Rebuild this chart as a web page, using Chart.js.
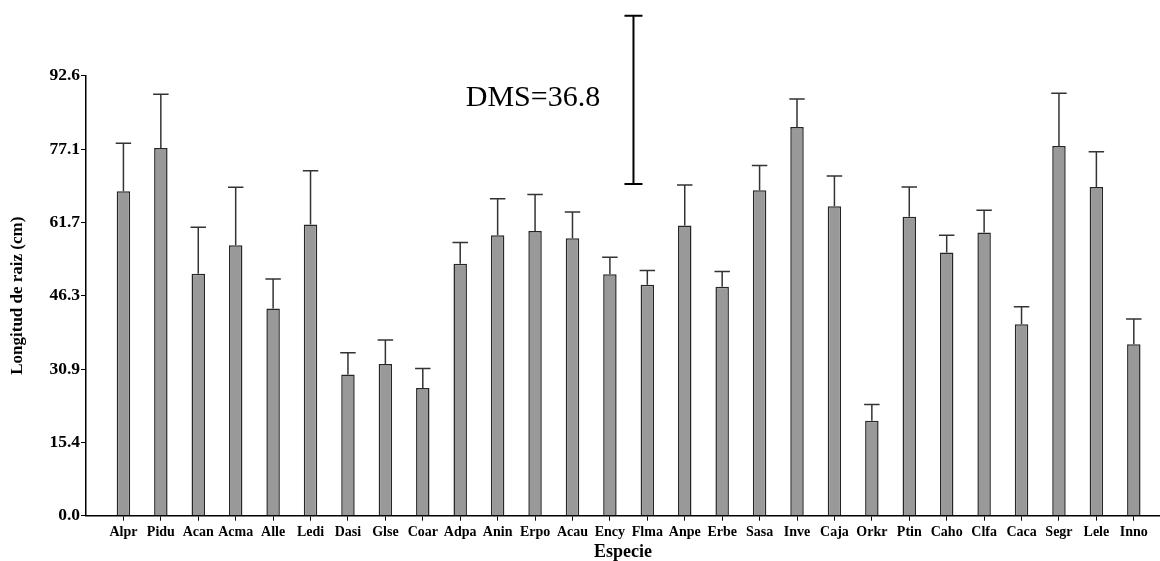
<!DOCTYPE html>
<html>
<head>
<meta charset="utf-8">
<script src="https://cdn.jsdelivr.net/npm/chart.js@4/dist/chart.umd.min.js"></script>
<style>
  html, body { margin: 0; padding: 0; background: #fff; overflow: hidden; }
  #wrap { width: 1160px; height: 561px; position: relative; }
</style>
</head>
<body>
<div id="wrap"><canvas id="myChart"></canvas></div>
<script>
// species codes
const especies = ['Alpr', 'Pidu', 'Acan', 'Acma', 'Alle', 'Ledi', 'Dasi', 'Glse', 'Coar', 'Adpa',
    'Anin', 'Erpo', 'Acau', 'Ency', 'Flma', 'Anpe', 'Erbe', 'Sasa', 'Inve', 'Caja',
    'Orkr', 'Ptin', 'Caho', 'Clfa', 'Caca', 'Segr', 'Lele', 'Inno'];

// mean root length (cm)
const medias = [68.3, 77.4, 50.9, 56.9, 43.6, 61.3, 29.7, 31.9, 26.9, 53.0,
    59.0, 59.9, 58.4, 50.8, 48.6, 61.1, 48.2, 68.5, 81.8, 65.1,
    20.0, 62.9, 55.4, 59.6, 40.3, 77.8, 69.2, 36.1];

// upper error (cm)
const errores = [10.1, 11.3, 9.8, 12.2, 6.2, 11.3, 4.6, 5.1, 4.1, 4.5,
    7.7, 7.7, 5.5, 3.6, 3.0, 8.5, 3.2, 5.2, 5.9, 6.4,
    3.4, 6.3, 3.6, 4.7, 3.7, 11.1, 7.4, 5.3];

const yTicks = [0.0, 15.4, 30.9, 46.3, 61.7, 77.1, 92.6];
const yMax = 92.6;

// DMS bar as drawn in the figure
const dmsLabel = 'DMS=36.8';
const dmsLow = 69.8;
const dmsHigh = 105.2;

const serif = '"Liberation Serif", "Times New Roman", serif';

const errorBars = {
    id: 'errorBars',
    afterDatasetsDraw(chart) {
        const ctx = chart.ctx;
        const y = chart.scales.y;
        const meta = chart.getDatasetMeta(0);
        ctx.save();
        ctx.strokeStyle = '#333';
        ctx.lineWidth = 1.5;
        meta.data.forEach((bar, i) => {
            const top = y.getPixelForValue(medias[i] + errores[i]);
            const half = bar.width / 2 + 1;
            ctx.beginPath();
            ctx.moveTo(bar.x, bar.y);
            ctx.lineTo(bar.x, top);
            ctx.moveTo(bar.x - half, top);
            ctx.lineTo(bar.x + half, top);
            ctx.stroke();
        });
        ctx.restore();
    }
};

const dmsBar = {
    id: 'dmsBar',
    afterDraw(chart) {
        const ctx = chart.ctx;
        const x = chart.scales.x;
        const y = chart.scales.y;
        const px = x.getPixelForValue(14.63);
        const p1 = y.getPixelForValue(dmsLow);
        const p2 = y.getPixelForValue(dmsHigh);
        ctx.save();
        ctx.strokeStyle = '#000';
        ctx.lineWidth = 2;
        ctx.beginPath();
        ctx.moveTo(px, p1);
        ctx.lineTo(px, p2);
        ctx.moveTo(px - 9, p1);
        ctx.lineTo(px + 9, p1);
        ctx.moveTo(px - 9, p2);
        ctx.lineTo(px + 9, p2);
        ctx.stroke();
        ctx.fillStyle = '#000';
        ctx.font = '30px ' + serif;
        ctx.textAlign = 'right';
        ctx.textBaseline = 'middle';
        ctx.fillText(dmsLabel, x.getPixelForValue(13.74), y.getPixelForValue(87.9));
        ctx.restore();
    }
};

const ctx = document.getElementById('myChart');
const myChart = new Chart(ctx, {
    type: 'bar',
    data: {
        datasets: [{
            data: medias.map((m, i) => ({ x: i + 1, y: m })),
            backgroundColor: '#999999',
            borderColor: '#262626',
            borderWidth: 1.5,
            barPercentage: 0.36,
            categoryPercentage: 1
        }]
    },
    options: {
        responsive: true,
        maintainAspectRatio: false,
        animation: false,
        layout: { padding: { top: 75.7, right: 0, left: 0, bottom: 0 } },
        plugins: {
            legend: { display: false },
            tooltip: { enabled: false }
        },
        scales: {
            x: {
                type: 'linear',
                min: 0,
                max: 28.7,
                offset: false,
                afterBuildTicks: (scale) => {
                    scale.ticks = especies.map((e, i) => ({ value: i + 1 }));
                },
                afterFit: (scale) => { scale.height = 45.3; },
                grid: { offset: false, drawOnChartArea: false, tickLength: 5, tickColor: '#000', tickWidth: 1 },
                border: { color: '#000', width: 1.5 },
                ticks: {
                    autoSkip: false,
                    maxRotation: 0,
                    padding: 3,
                    color: '#000',
                    font: { family: serif, size: 14, weight: 'bold' },
                    callback: (v) => especies[v - 1] || ''
                },
                title: {
                    display: true,
                    text: 'Especie',
                    color: '#000',
                    padding: 0,
                    font: { family: serif, size: 18, weight: 'bold', lineHeight: 1 }
                }
            },
            y: {
                min: 0,
                max: yMax,
                afterBuildTicks: (scale) => {
                    scale.ticks = yTicks.map((t, i) => ({ value: i * yMax / (yTicks.length - 1) }));
                },
                afterFit: (scale) => { scale.width = 86; },
                grid: { drawOnChartArea: false, tickLength: 5, tickColor: '#000', tickWidth: 1 },
                border: { color: '#000', width: 1.5 },
                ticks: {
                    padding: 1,
                    color: '#000',
                    font: { family: serif, size: 17.5, weight: 'bold' },
                    callback: (v, i) => yTicks[i].toFixed(1)
                },
                title: {
                    display: true,
                    text: 'Longitud de raiz (cm)',
                    color: '#000',
                    padding: { top: 7, bottom: 0 },
                    font: { family: serif, size: 17, weight: 'bold' }
                }
            }
        }
    },
    plugins: [errorBars, dmsBar]
});
</script>
</body>
</html>
